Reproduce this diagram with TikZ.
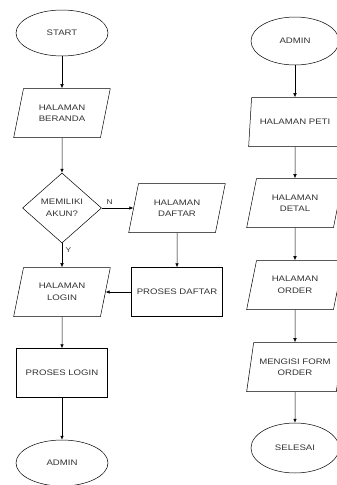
\documentclass[tikz,border=0pt]{standalone}
\usepackage{fontspec}
\newfontfamily\flowfont[FakeStretch=1.2]{Liberation Sans}
\usetikzlibrary{shapes.geometric,arrows.meta}

\begin{document}
\begin{tikzpicture}[x=1pt, y=-1pt, node distance=81pt,
  main node/.style={draw, line width=0.5pt, align=center, inner sep=1pt,
    text=black!80, font=\flowfont\fontsize{8}{11.5}\selectfont},
  term node/.style={main node, ellipse, minimum width=92pt, minimum height=46pt},
  io node/.style={main node, trapezium, trapezium left angle=72,
    trapezium right angle=108, trapezium stretches=true,
    minimum width=97pt, minimum height=49pt},
  proc node/.style={main node, rectangle, minimum width=91pt, minimum height=49pt},
  dec node/.style={main node, diamond, minimum width=79pt, minimum height=70pt},
  every edge/.style={draw, line width=0.5pt, -{Latex[length=4pt,width=3.5pt]}},
  lbl/.style={font=\flowfont\fontsize{7}{8}\selectfont, text=black!80}]
\useasboundingbox (0,0) rectangle (337,485);

% login
\node[term node] at (62,33)                    (start)    {START};
\node[io node, below of=start, node distance=80pt]  (beranda)  {HALAMAN\\BERANDA};
\node[dec node, below of=beranda, node distance=95pt] (akun)  {MEMILIKI\\AKUN?};
\node[io node, right of=akun, node distance=115pt]  (hdaftar)  {HALAMAN\\DAFTAR};
\node[io node, below of=akun, node distance=84pt]   (hlogin)   {HALAMAN\\LOGIN};
\node[proc node, below of=hdaftar, node distance=84pt] (pdaftar) {PROSES DAFTAR};
\node[proc node, below of=hlogin]              (plogin)   {PROSES LOGIN};
\node[term node, below of=plogin, node distance=90pt] (admin)  {ADMIN};

% admin
\node[term node, minimum width=88pt, minimum height=48pt] at (295,41) (admintop) {ADMIN};
\node[io node, minimum width=93pt, below of=admintop] (peti)   {HALAMAN PETI};
\node[io node, below of=peti]                  (detal)    {HALAMAN\\DETAL};
\node[io node, below of=detal, node distance=82pt] (order)  {HALAMAN\\ORDER};
\node[io node, below of=order, node distance=82pt] (form)   {MENGISI FORM\\ORDER};
\node[term node, minimum width=88pt, minimum height=50pt, below of=form] (selesai) {SELESAI};

\path
(start)    edge (beranda)
(beranda)  edge (akun)
(akun)     edge node[lbl, above, pos=0.25] {N} (hdaftar)
           edge node[lbl, right, pos=0.3] {Y} (hlogin)
(hdaftar)  edge (pdaftar)
(pdaftar)  edge (hlogin)
(hlogin)   edge (plogin)
(plogin)   edge (admin)
(admintop) edge (peti)
(peti)     edge (detal)
(detal)    edge (order)
(order)    edge (form)
(form)     edge (selesai)
;
\end{tikzpicture}
\end{document}
